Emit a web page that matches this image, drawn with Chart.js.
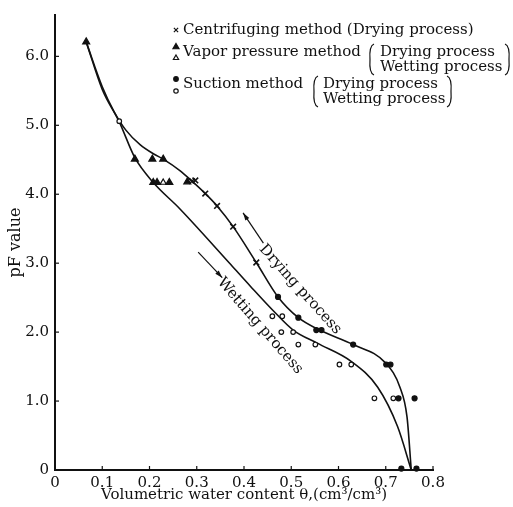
<!DOCTYPE html>
<html>
<head>
<meta charset="utf-8">
<script src="https://cdn.jsdelivr.net/npm/chart.js@4.4.1/dist/chart.umd.min.js"></script>
<style>
  html, body { margin: 0; padding: 0; background: #fff; }
  #wrap { position: relative; width: 513px; height: 507px; }
</style>
</head>
<body>
<div id="wrap"><canvas id="chart"></canvas></div>
<script>
// axis ticks
const xTicks = [0, 0.1, 0.2, 0.3, 0.4, 0.5, 0.6, 0.7, 0.8];
const yTicks = [0, 1, 2, 3, 4, 5, 6];

// smooth curves
const dryingCurveX = [0.066, 0.1, 0.125, 0.15, 0.18, 0.21, 0.229, 0.265, 0.29, 0.318, 0.343, 0.377, 0.426, 0.472, 0.515, 0.56, 0.631, 0.70, 0.73, 0.745, 0.754];
const dryingCurveY = [6.21, 5.56, 5.2, 4.93, 4.72, 4.58, 4.51, 4.34, 4.19, 4.01, 3.83, 3.53, 3.01, 2.51, 2.21, 2.03, 1.82, 1.55, 1.2, 0.77, 0];
const wettingCurveX = [0.066, 0.1, 0.136, 0.169, 0.208, 0.264, 0.372, 0.413, 0.462, 0.504, 0.555, 0.626, 0.683, 0.725, 0.754];
const wettingCurveY = [6.21, 5.52, 5.05, 4.53, 4.17, 3.79, 2.98, 2.67, 2.31, 2.03, 1.84, 1.58, 1.2, 0.63, 0];

// measured points
const centrifX = [0.29, 0.297, 0.318, 0.343, 0.377, 0.426];
const centrifY = [4.19, 4.2, 4.01, 3.83, 3.53, 3.01];
const vaporDryX = [0.066, 0.169, 0.206, 0.229, 0.208, 0.216, 0.242, 0.28];
const vaporDryY = [6.21, 4.51, 4.51, 4.51, 4.17, 4.17, 4.17, 4.18];
const vaporWetX = [0.229];
const vaporWetY = [4.17];
const suctionDryX = [0.472, 0.515, 0.553, 0.564, 0.631, 0.701, 0.71, 0.727, 0.761, 0.733, 0.765];
const suctionDryY = [2.51, 2.21, 2.03, 2.03, 1.82, 1.53, 1.53, 1.04, 1.04, 0.02, 0.02];
const suctionWetX = [0.136, 0.46, 0.481, 0.479, 0.504, 0.515, 0.551, 0.602, 0.627, 0.676, 0.716];
const suctionWetY = [5.06, 2.23, 2.23, 2.0, 2.0, 1.82, 1.82, 1.53, 1.53, 1.04, 1.04];

// arrows next to the curves: [tailX, tailY, headX, headY]
const dryingArrow = [0.441, 3.29, 0.398, 3.73];
const wettingArrow = [0.303, 3.16, 0.354, 2.79];
// curve labels: [x, y, angle in degrees]
const dryingLabel = [0.519, 2.62, 48];
const wettingLabel = [0.434, 2.09, 49];

const SERIF = '"DejaVu Serif", "Liberation Serif", serif';

const pts = (xs, ys) => xs.map((x, i) => ({ x, y: ys[i] }));

function drawArrow(ctx, chart, a) {
  const { x, y } = chart.scales;
  const x0 = x.getPixelForValue(a[0]), y0 = y.getPixelForValue(a[1]);
  const x1 = x.getPixelForValue(a[2]), y1 = y.getPixelForValue(a[3]);
  const ang = Math.atan2(y1 - y0, x1 - x0);
  ctx.beginPath();
  ctx.moveTo(x0, y0);
  ctx.lineTo(x1, y1);
  ctx.stroke();
  ctx.beginPath();
  ctx.moveTo(x1, y1);
  ctx.lineTo(x1 - 8 * Math.cos(ang - 0.3), y1 - 8 * Math.sin(ang - 0.3));
  ctx.lineTo(x1 - 8 * Math.cos(ang + 0.3), y1 - 8 * Math.sin(ang + 0.3));
  ctx.closePath();
  ctx.fill();
}

function drawLabel(ctx, chart, lab, text) {
  const { x, y } = chart.scales;
  ctx.save();
  ctx.translate(x.getPixelForValue(lab[0]), y.getPixelForValue(lab[1]));
  ctx.rotate(lab[2] * Math.PI / 180);
  ctx.textAlign = 'center';
  ctx.textBaseline = 'middle';
  ctx.fillText(text, 0, 0);
  ctx.restore();
}

function bracket(ctx, x, top, bottom, left) {
  const d = left ? 1 : -1;
  ctx.beginPath();
  ctx.moveTo(x + 3 * d, top);
  ctx.quadraticCurveTo(x - 2 * d, top + 2, x - 1 * d, (top + bottom) / 2);
  ctx.quadraticCurveTo(x - 2 * d, bottom - 2, x + 3 * d, bottom);
  ctx.stroke();
}

const annotations = {
  id: 'annotations',
  afterDraw(chart) {
    const ctx = chart.ctx;
    const { x, y } = chart.scales;
    ctx.save();
    ctx.strokeStyle = '#111';
    ctx.fillStyle = '#111';
    ctx.lineWidth = 1.2;

    // inward tick marks
    x.ticks.forEach((t) => {
      const px = x.getPixelForValue(t.value);
      ctx.beginPath(); ctx.moveTo(px, y.bottom); ctx.lineTo(px, y.bottom - 4); ctx.stroke();
    });
    y.ticks.forEach((t) => {
      const py = y.getPixelForValue(t.value);
      ctx.beginPath(); ctx.moveTo(x.left, py); ctx.lineTo(x.left + 4, py); ctx.stroke();
    });

    drawArrow(ctx, chart, dryingArrow);
    drawArrow(ctx, chart, wettingArrow);
    ctx.font = '15px ' + SERIF;
    drawLabel(ctx, chart, dryingLabel, 'Drying process');
    drawLabel(ctx, chart, wettingLabel, 'Wetting process');

    // legend
    ctx.textAlign = 'left';
    ctx.textBaseline = 'middle';
    ctx.font = '15px ' + SERIF;

    ctx.fillStyle = '#111';
    Chart.helpers.drawPoint(ctx, { pointStyle: 'crossRot', radius: 3, borderWidth: 1.2 }, 176, 30);
    ctx.fillText('Centrifuging method (Drying process)', 183, 30);

    ctx.fillStyle = '#111';
    Chart.helpers.drawPoint(ctx, { pointStyle: 'triangle', radius: 3.5, borderWidth: 1 }, 176, 47);
    ctx.fillStyle = '#fff';
    Chart.helpers.drawPoint(ctx, { pointStyle: 'triangle', radius: 3, borderWidth: 1 }, 176, 58);
    ctx.fillStyle = '#111';
    ctx.fillText('Vapor pressure method', 183, 52);
    bracket(ctx, 371, 44, 75, true);
    ctx.fillText('Drying process', 380, 52);
    ctx.fillText('Wetting process', 380, 67);
    bracket(ctx, 508, 44, 75, false);

    ctx.fillStyle = '#111';
    Chart.helpers.drawPoint(ctx, { pointStyle: 'circle', radius: 2.3, borderWidth: 1 }, 176, 79);
    ctx.fillStyle = '#fff';
    Chart.helpers.drawPoint(ctx, { pointStyle: 'circle', radius: 2.2, borderWidth: 1 }, 176, 91);
    ctx.fillStyle = '#111';
    ctx.fillText('Suction method', 183, 84);
    bracket(ctx, 315, 76, 107, true);
    ctx.fillText('Drying process', 323, 84);
    ctx.fillText('Wetting process', 323, 99);
    bracket(ctx, 450, 76, 107, false);

    ctx.restore();
  }
};

const markerBase = { showLine: false, clip: false, borderColor: '#111', borderWidth: 1.2, order: 0 };
const curveBase = { showLine: true, cubicInterpolationMode: 'monotone', pointRadius: 0,
  borderColor: '#111', borderWidth: 1.6, clip: false, order: 1 };

new Chart(document.getElementById('chart'), {
  type: 'scatter',
  data: {
    datasets: [
      { ...markerBase, label: 'Centrifuging method (Drying process)', data: pts(centrifX, centrifY),
        pointStyle: 'crossRot', pointRadius: 4, borderWidth: 1.6 },
      { ...markerBase, label: 'Vapor pressure method (Drying process)', data: pts(vaporDryX, vaporDryY),
        pointStyle: 'triangle', pointRadius: 4, backgroundColor: '#111' },
      { ...markerBase, label: 'Vapor pressure method (Wetting process)', data: pts(vaporWetX, vaporWetY),
        pointStyle: 'triangle', pointRadius: 3.5, backgroundColor: '#fff' },
      { ...markerBase, label: 'Suction method (Drying process)', data: pts(suctionDryX, suctionDryY),
        pointStyle: 'circle', pointRadius: 2.5, backgroundColor: '#111' },
      { ...markerBase, label: 'Suction method (Wetting process)', data: pts(suctionWetX, suctionWetY),
        pointStyle: 'circle', pointRadius: 2.3, backgroundColor: '#fff' },
      { ...curveBase, label: 'Drying process', data: pts(dryingCurveX, dryingCurveY) },
      { ...curveBase, label: 'Wetting process', data: pts(wettingCurveX, wettingCurveY) },
    ],
  },
  options: {
    responsive: true,
    maintainAspectRatio: false,
    animation: false,
    events: [],
    layout: { padding: { top: 5, right: 80, bottom: 0, left: 0 } },
    plugins: { legend: { display: false }, tooltip: { enabled: false } },
    scales: {
      x: {
        type: 'linear', min: 0, max: 0.8,
        afterBuildTicks: (s) => { s.ticks = xTicks.map((v) => ({ value: v })); },
        afterFit: (s) => { s.height = 37; },
        grid: { display: false, drawTicks: false },
        border: { display: true, color: '#111', width: 2 },
        ticks: { padding: 4, color: '#111', font: { family: SERIF, size: 15 },
          callback: (v) => (v === 0 ? '0' : v.toFixed(1)) },
        title: { display: true, text: 'Volumetric water content θ,(cm³/cm³)', color: '#111',
          font: { family: SERIF, size: 15 }, padding: { top: 0, bottom: 3 } },
      },
      y: {
        type: 'linear', min: 0, max: 6.6,
        afterBuildTicks: (s) => { s.ticks = yTicks.map((v) => ({ value: v })); },
        afterFit: (s) => { s.width = 55; },
        grid: { display: false, drawTicks: false },
        border: { display: true, color: '#111', width: 2 },
        ticks: { padding: 6, color: '#111', font: { family: SERIF, size: 15 },
          callback: (v) => (v === 0 ? '0' : v.toFixed(1)) },
        title: { display: true, text: 'pF value', color: '#111',
          font: { family: SERIF, size: 16 }, padding: { top: 6, bottom: 0 } },
      },
    },
  },
  plugins: [annotations],
});
</script>
</body>
</html>
